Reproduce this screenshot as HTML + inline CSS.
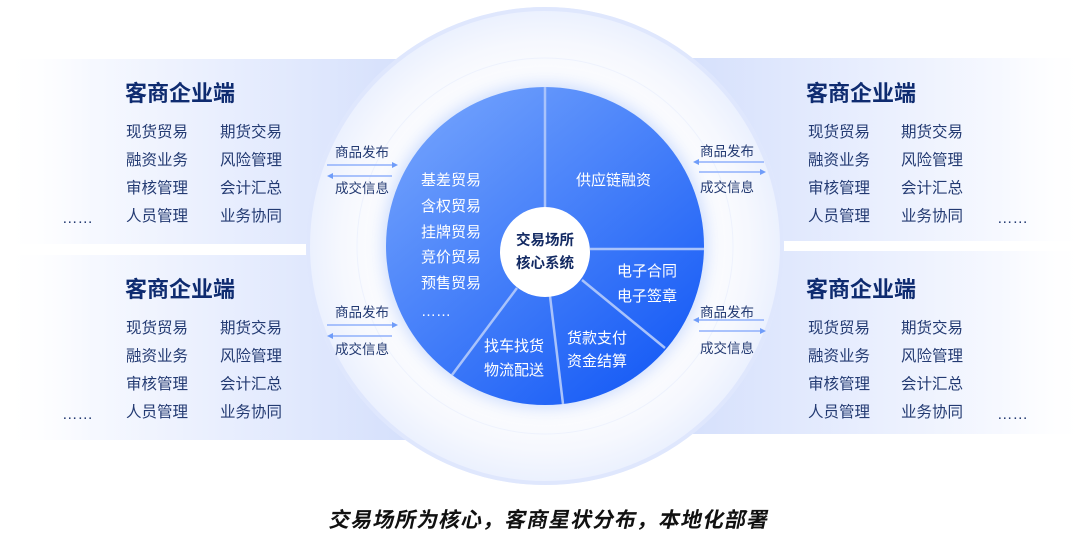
<!DOCTYPE html>
<html><head><meta charset="utf-8"><style>
html,body{margin:0;padding:0;background:#fff}
svg text{font-family:"Liberation Sans","Noto Sans CJK SC",sans-serif}
</style></head><body>
<svg width="1091" height="531" viewBox="0 0 1091 531" xmlns="http://www.w3.org/2000/svg">
<defs>
<linearGradient id="pl" x1="0" x2="1"><stop offset="0" stop-color="#fff" stop-opacity="0"/><stop offset="0.2" stop-color="#f7f9ff"/><stop offset="1" stop-color="#d4dffc"/></linearGradient>
<linearGradient id="pr" x1="1" x2="0"><stop offset="0" stop-color="#fff" stop-opacity="0"/><stop offset="0.2" stop-color="#f7f9ff"/><stop offset="1" stop-color="#d4dffc"/></linearGradient>
<radialGradient id="halo" cx="0.5" cy="0.5" r="0.5"><stop offset="0.6" stop-color="#ffffff"/><stop offset="0.85" stop-color="#f6f8fe"/><stop offset="1" stop-color="#eaf0fe"/></radialGradient>
<linearGradient id="pie" x1="0.15" y1="0.1" x2="0.85" y2="0.95"><stop offset="0" stop-color="#6d9efc"/><stop offset="1" stop-color="#165bf6"/></linearGradient>
<filter id="gl" x="-30%" y="-30%" width="160%" height="160%"><feGaussianBlur stdDeviation="8"/></filter>
</defs>
<rect x="0" y="59" width="420" height="185" fill="url(#pl)"/>
<rect x="0" y="255" width="420" height="185" fill="url(#pl)"/>
<rect x="672" y="58" width="419" height="183" fill="url(#pr)"/>
<rect x="672" y="251" width="419" height="183" fill="url(#pr)"/>
<circle cx="545" cy="246" r="239" fill="url(#halo)"/>
<circle cx="545" cy="246" r="237" fill="none" stroke="#dfe7fd" stroke-width="4"/>
<circle cx="545" cy="246" r="188" fill="none" stroke="#eef2fd" stroke-width="1"/>
<circle cx="545" cy="246" r="162" fill="#6e9cf8" opacity="0.35" filter="url(#gl)"/>
<circle cx="545" cy="246" r="159" fill="url(#pie)"/>
<g stroke="#a9c3fb" stroke-width="2.5">
<line x1="545" y1="87" x2="545" y2="210"/>
<line x1="590" y1="249" x2="704" y2="249"/>
<line x1="582" y1="280" x2="665" y2="348"/>
<line x1="550" y1="296" x2="563" y2="404"/>
<line x1="517" y1="288" x2="452" y2="375"/>
</g>
<circle cx="545" cy="252" r="45" fill="#fff"/>
<g font-size="14.5" font-weight="bold" fill="#132a63" text-anchor="middle">
<text x="545" y="245">交易场所</text><text x="545" y="268">核心系统</text></g>
<g font-size="15" fill="#fff">
<text x="421" y="185">基差贸易</text><text x="421" y="211">含权贸易</text><text x="421" y="237">挂牌贸易</text><text x="421" y="262">竞价贸易</text><text x="421" y="288">预售贸易</text><text x="421" y="316">……</text>
<text x="576" y="185">供应链融资</text>
<text x="617" y="276">电子合同</text><text x="617" y="301">电子签章</text>
<text x="567" y="343">货款支付</text><text x="567" y="366">资金结算</text>
<text x="484" y="351">找车找货</text><text x="484" y="375">物流配送</text>
</g>
<g fill="#0e2b70" font-size="22" font-weight="bold">
<text x="125" y="101">客商企业端</text><text x="125" y="297">客商企业端</text>
<text x="806" y="101">客商企业端</text><text x="806" y="297">客商企业端</text>
</g>
<g fill="#233a72" font-size="15.5">
<text x="126" y="137">现货贸易</text><text x="220" y="137">期货交易</text>
<text x="126" y="165">融资业务</text><text x="220" y="165">风险管理</text>
<text x="126" y="193">审核管理</text><text x="220" y="193">会计汇总</text>
<text x="126" y="221">人员管理</text><text x="220" y="221">业务协同</text>
<text x="62" y="223">……</text>
<text x="126" y="333">现货贸易</text><text x="220" y="333">期货交易</text>
<text x="126" y="361">融资业务</text><text x="220" y="361">风险管理</text>
<text x="126" y="389">审核管理</text><text x="220" y="389">会计汇总</text>
<text x="126" y="417">人员管理</text><text x="220" y="417">业务协同</text>
<text x="62" y="419">……</text>
<text x="808" y="137">现货贸易</text><text x="901" y="137">期货交易</text>
<text x="808" y="165">融资业务</text><text x="901" y="165">风险管理</text>
<text x="808" y="193">审核管理</text><text x="901" y="193">会计汇总</text>
<text x="808" y="221">人员管理</text><text x="901" y="221">业务协同</text>
<text x="997" y="223">……</text>
<text x="808" y="333">现货贸易</text><text x="901" y="333">期货交易</text>
<text x="808" y="361">融资业务</text><text x="901" y="361">风险管理</text>
<text x="808" y="389">审核管理</text><text x="901" y="389">会计汇总</text>
<text x="808" y="417">人员管理</text><text x="901" y="417">业务协同</text>
<text x="997" y="419">……</text>
</g>
<g fill="#233a72" font-size="13.5">
<text x="335" y="157">商品发布</text><text x="335" y="193">成交信息</text>
<text x="335" y="317">商品发布</text><text x="335" y="354">成交信息</text>
<text x="700" y="156">商品发布</text><text x="700" y="192">成交信息</text>
<text x="700" y="317">商品发布</text><text x="700" y="353">成交信息</text>
</g>
<g stroke="#8fb0fb" stroke-width="1.5" fill="#6f9cf9">
<line x1="327" y1="165" x2="394" y2="165"/><path d="M398 165l-6-3v6z" stroke="none"/>
<line x1="331" y1="176" x2="392" y2="176"/><path d="M327 176l6-3v6z" stroke="none"/>
<line x1="327" y1="325" x2="394" y2="325"/><path d="M398 325l-6-3v6z" stroke="none"/>
<line x1="331" y1="336" x2="392" y2="336"/><path d="M327 336l6-3v6z" stroke="none"/>
<line x1="697" y1="162" x2="764" y2="162"/><path d="M693 162l6-3v6z" stroke="none"/>
<line x1="699" y1="172" x2="762" y2="172"/><path d="M766 172l-6-3v6z" stroke="none"/>
<line x1="697" y1="320" x2="764" y2="320"/><path d="M693 320l6-3v6z" stroke="none"/>
<line x1="699" y1="331" x2="762" y2="331"/><path d="M766 331l-6-3v6z" stroke="none"/>
</g>
<text x="548" y="527" font-size="21" font-weight="bold" fill="#111" text-anchor="middle" letter-spacing="1" transform="skewX(-12) translate(112,0)">交易场所为核心，客商星状分布，本地化部署</text>
</svg>
</body></html>
